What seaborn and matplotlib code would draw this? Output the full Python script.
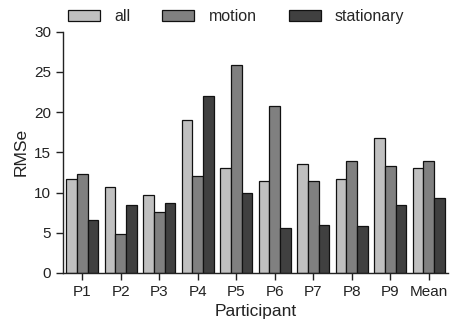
import matplotlib
matplotlib.use("Agg")
import matplotlib.pyplot as plt
import seaborn as sns
import pandas as pd

participants = ["P1", "P2", "P3", "P4", "P5", "P6", "P7", "P8", "P9", "Mean"]
all_vals = [11.7, 10.65, 9.65, 19.0, 13.1, 11.45, 13.55, 11.7, 16.8, 13.0]
motion_vals = [12.3, 4.9, 7.6, 12.0, 25.8, 20.7, 11.4, 13.9, 13.3, 13.9]
stationary_vals = [6.55, 8.5, 8.7, 21.95, 10.0, 5.6, 5.95, 5.9, 8.4, 9.3]
series = ["all", "motion", "stationary"]
colors = ["#c0c0c0", "#808080", "#404040"]

rows = []
for name, vals in zip(series, [all_vals, motion_vals, stationary_vals]):
    for p, v in zip(participants, vals):
        rows.append({"Participant": p, "RMSe": v, "cond": name})
df = pd.DataFrame(rows)

sns.set_style("ticks")
plt.rcParams["font.family"] = ["Liberation Sans", "DejaVu Sans"]

fig = plt.figure(figsize=(4.58, 3.26), dpi=100)
ax = fig.add_axes([0.1376, 0.1626, 0.978 - 0.1376, 0.9028 - 0.1626])

sns.barplot(data=df, x="Participant", y="RMSe", hue="cond", order=participants,
            hue_order=series, palette=colors, edgecolor="#111111", linewidth=0.9,
            width=0.83, ax=ax, errorbar=None)

ax.set_xlim(-0.5, 9.5)
ax.set_ylim(0, 30)
ax.set_yticks([0, 5, 10, 15, 20, 25, 30])
ax.set_xlabel("Participant", fontsize=12.5, color="#222222")
ax.set_ylabel("RMSe", fontsize=12.5, color="#222222")
ax.tick_params(axis="both", labelsize=11, colors="#222222", length=5, width=1, direction="out")
for s in ["top", "right"]:
    ax.spines[s].set_visible(False)
for s in ["left", "bottom"]:
    ax.spines[s].set_color("#222222")
    ax.spines[s].set_linewidth(1)

ax.legend(ncol=3, frameon=False, loc="center", bbox_to_anchor=(0.45, 1.063),
          fontsize=11.5, handlelength=2.0, handleheight=0.7, handletextpad=0.9,
          columnspacing=2.0, borderaxespad=0)

fig.savefig("out.png", dpi=100)
